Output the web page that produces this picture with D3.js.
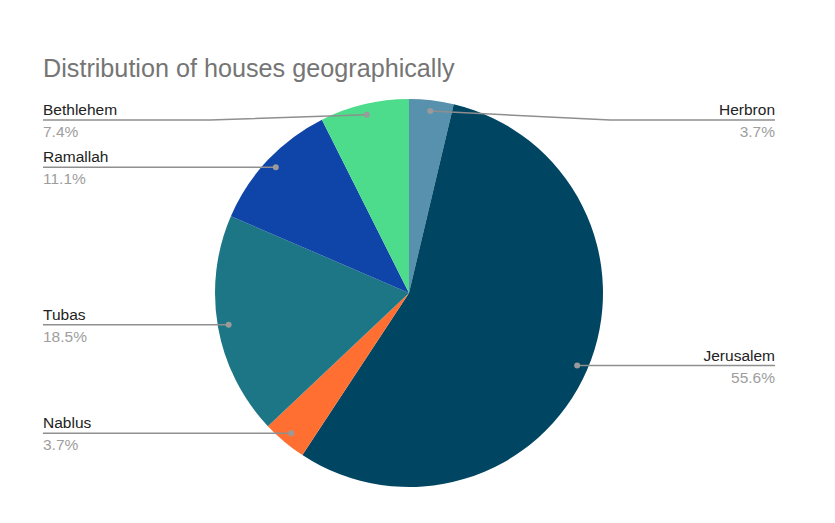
<!DOCTYPE html>
<html><head><meta charset="utf-8">
<script src="https://cdn.jsdelivr.net/npm/d3@7"></script>
<style>body{margin:0;background:#fff}svg{display:block}</style>
</head><body>
<script>
const categories = ["Herbron","Jerusalem","Nablus","Tubas","Ramallah","Bethlehem"];
const values = [1,15,1,5,3,2];
const percentLabels = ["3.7%","55.6%","3.7%","18.5%","11.1%","7.4%"];
const colors = ["#5891ad","#004561","#ff6f31","#1c7685","#0f45a8","#4cdc8b"];

const W=835,H=523,cx=409,cy=293,R=194;
const svg=d3.select("body").append("svg").attr("width",W).attr("height",H);
svg.append("rect").attr("width",W).attr("height",H).attr("fill","#fff");
svg.append("text").attr("x",43).attr("y",77).attr("font-family","Liberation Sans, Arial, sans-serif")
  .attr("font-size",25.2).attr("fill","#757575").text("Distribution of houses geographically");

const data=categories.map((c,i)=>({name:c,value:values[i],pct:percentLabels[i],color:colors[i]}));
const pie=d3.pie().sort(null).value(d=>d.value);
const arcs=pie(data);
const arc=d3.arc().innerRadius(0).outerRadius(R);
const g=svg.append("g").attr("transform",`translate(${cx},${cy})`);
g.selectAll("path").data(arcs).join("path").attr("d",arc).attr("fill",d=>d.data.color);

const lab=svg.append("g");
const rDot=R*0.944;
arcs.forEach(a=>{
  const m=(a.startAngle+a.endAngle)/2;
  const px=cx+Math.sin(m)*rDot, py=cy-Math.cos(m)*rDot;
  const right=Math.sin(m)>0;
  const ly=Math.max(120,py);
  const elbowX=right?cx+R+7:cx-R-5;
  const endX=right?775:43;
  let pts;
  if(Math.abs(ly-py)>0.5) pts=[[px,py],[elbowX,ly],[endX,ly]];
  else pts=[[px,py],[endX,ly]];
  lab.append("path").attr("d",d3.line()(pts)).attr("fill","none").attr("stroke","#8f8f8f").attr("stroke-width",1.5);
  lab.append("circle").attr("cx",px).attr("cy",py).attr("r",3).attr("fill","#9a9a9a");
  const anchor=right?"end":"start";
  lab.append("text").attr("x",endX).attr("y",ly-5).attr("text-anchor",anchor)
    .attr("font-family","Liberation Sans, Arial, sans-serif").attr("font-size",15.5).attr("fill","#222").text(a.data.name);
  lab.append("text").attr("x",endX).attr("y",ly+17).attr("text-anchor",anchor)
    .attr("font-family","Liberation Sans, Arial, sans-serif").attr("font-size",15.5).attr("fill","#9e9e9e").text(a.data.pct);
});
</script>
</body></html>
